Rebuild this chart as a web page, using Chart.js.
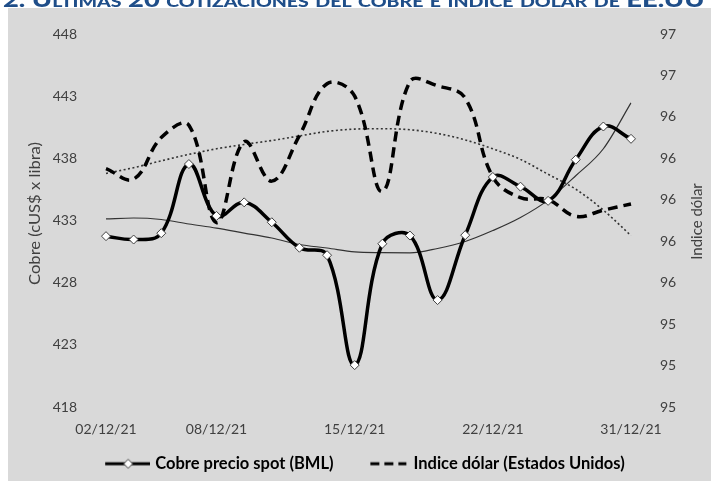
<!DOCTYPE html>
<html><head><meta charset="utf-8">
<script src="https://cdn.jsdelivr.net/npm/chart.js@4.4.1/dist/chart.umd.min.js"></script>
<style>
html,body{margin:0;padding:0;background:#fff;width:711px;height:481px;overflow:hidden;position:relative;}
#title{position:absolute;left:3px;top:-12px;line-height:21px;white-space:nowrap;font-family:Lato,sans-serif;font-weight:900;font-size:21px;font-variant:small-caps;color:#1f4e89;transform-origin:0 0;z-index:2;}
#wrap{position:absolute;left:8px;top:8px;width:703px;height:473px;background:#d9d9d9;}
canvas{display:block;}
</style></head><body>
<div id="title">2. Últimas 20 cotizaciones del cobre e índice dólar de EE.UU</div>
<div id="wrap"><canvas id="c" width="703" height="473"></canvas></div>
<script>
// ---- data ----
const categories = ['02/12/21','03/12/21','06/12/21','07/12/21','08/12/21','09/12/21','10/12/21','13/12/21','14/12/21','15/12/21',
                    '16/12/21','17/12/21','20/12/21','21/12/21','22/12/21','23/12/21','24/12/21','29/12/21','30/12/21','31/12/21'];
const shownTickLabels = ['02/12/21','08/12/21','15/12/21','22/12/21','31/12/21'];
const copperSpot = [431.74,431.47,431.98,437.54,433.37,434.46,432.86,430.81,430.21,421.37,
                    431.13,431.79,426.60,431.82,436.50,435.72,434.58,437.89,440.56,439.57];
const dollarIndex = [96.15,96.10,96.30,96.36,95.89,96.28,96.09,96.31,96.56,96.50,
                     96.04,96.57,96.55,96.49,96.11,96.01,96.00,95.92,95.95,95.98];
const copperTrend = [433.13,433.20,433.08,432.72,432.39,431.99,431.59,431.07,430.79,430.47,
                     430.41,430.39,430.75,431.31,432.19,433.24,434.64,436.60,438.77,442.46];
const dollarTrend = [96.127,96.155,96.188,96.219,96.246,96.267,96.286,96.308,96.330,96.341,
                     96.343,96.338,96.320,96.289,96.246,96.195,96.123,96.051,95.950,95.827];
const seriesNames = ['Cobre precio spot (BML)','Indice dólar (Estados Unidos)'];
const leftTitle = 'Cobre (cUS$ x libra)';
const rightTitle = 'Indice dólar';

// fit title width
const t = document.getElementById('title');
t.style.transform = 'scaleX(' + (702 / t.scrollWidth) + ')';

// legend symbols
function sym(dashed){
  const c = document.createElement('canvas'); c.width = 68; c.height = 12;
  const x = c.getContext('2d');
  x.strokeStyle = '#000'; x.lineWidth = 3.2;
  if (dashed) x.setLineDash([9,5]);
  x.beginPath(); x.moveTo(dashed?30:23,6); x.lineTo(dashed?66:68,6); x.stroke();
  if (!dashed){
    x.setLineDash([]);
    x.fillStyle='#fff'; x.strokeStyle='#404040'; x.lineWidth=1;
    x.beginPath(); x.moveTo(46,1.5); x.lineTo(50.5,6); x.lineTo(46,10.5); x.lineTo(41.5,6); x.closePath();
    x.fill(); x.stroke();
  }
  return c;
}
const legendSyms = [sym(false), sym(true)];

const titlesPlugin = {
  id:'axisTitles',
  afterDraw(chart){
    const ctx = chart.ctx;
    ctx.save();
    ctx.font = '16px Lato, sans-serif'; ctx.fillStyle = '#404040';
    ctx.textAlign = 'center'; ctx.textBaseline = 'middle';
    const w = ctx.measureText(leftTitle).width;
    ctx.translate(26.5, 205.5); ctx.rotate(-Math.PI/2); ctx.scale(143 / w, 1);
    ctx.fillText(leftTitle, 0, 0);
    ctx.restore();
    ctx.save();
    ctx.font = '15px Lato, sans-serif'; ctx.fillStyle = '#404040';
    ctx.textAlign = 'center'; ctx.textBaseline = 'middle';
    ctx.translate(689, 213.5); ctx.rotate(-Math.PI/2); ctx.fillText(rightTitle, 0, 0);
    ctx.restore();
  }
};

function fixV(w){ return (ax)=>{ ax.width = w; ax.paddingTop = 8; ax.paddingBottom = 8; }; }

new Chart(document.getElementById('c'), {
  type:'line',
  data:{
    labels: categories,
    datasets:[
      {label: seriesNames[0], data: copperSpot, yAxisID:'y', borderColor:'#000', borderWidth:3.5, tension:0.4,
       pointStyle:'rectRot', pointRadius:4.5, pointBackgroundColor:'#fff', pointBorderColor:'#404040', pointBorderWidth:1, order:0},
      {label: seriesNames[1], data: dollarIndex, yAxisID:'y1', borderColor:'#000', borderWidth:3.5, borderDash:[10,6], tension:0.4,
       pointRadius:0, order:1},
      {label:'trend cobre', data: copperTrend, yAxisID:'y', borderColor:'#333', borderWidth:1.2, cubicInterpolationMode:'monotone',
       pointRadius:0, order:2},
      {label:'trend dolar', data: dollarTrend, yAxisID:'y1', borderColor:'#333', borderWidth:1.6, borderDash:[2,2.5], cubicInterpolationMode:'monotone',
       pointRadius:0, order:3}
    ]
  },
  options:{
    responsive:false, animation:false,
    layout:{padding:{left:0,right:9,top:26,bottom:-1}},
    scales:{
      x:{
        grid:{display:false, drawTicks:false}, border:{display:false},
        ticks:{autoSkip:false, maxRotation:0, padding:14, color:'#404040', font:{family:'Lato', size:14},
          callback:(v,i)=> shownTickLabels.includes(categories[i]) ? categories[i] : ''},
        afterFit:(ax)=>{ ax.height = 38.5; }
      },
      y:{
        position:'left', min:418, max:448,
        grid:{display:false, drawTicks:false}, border:{display:false},
        ticks:{stepSize:5, padding:29, color:'#404040', font:{family:'Lato', size:14}},
        afterFit: fixV(98)
      },
      y1:{
        position:'right', min:95, max:96.8,
        grid:{display:false, drawTicks:false}, border:{display:false},
        ticks:{stepSize:0.2, padding:29, color:'#404040', font:{family:'Lato', size:14},
          callback:(v)=> String(Math.round(v))},
        afterFit: fixV(71)
      }
    },
    plugins:{
      tooltip:{enabled:false},
      legend:{
        position:'bottom',
        labels:{
          usePointStyle:true, pointStyleWidth:61.75, padding:10, color:'#000',
          font:{family:'Lato', size:16.5, weight:'bold'},
          filter:(item)=> item.datasetIndex < 2,
          generateLabels:(chart)=>{
            const items = Chart.defaults.plugins.legend.labels.generateLabels(chart);
            items.forEach(it=>{ if (it.datasetIndex < 2) it.pointStyle = legendSyms[it.datasetIndex]; });
            return items;
          }
        }
      }
    }
  },
  plugins:[titlesPlugin]
});
</script>
</body></html>
